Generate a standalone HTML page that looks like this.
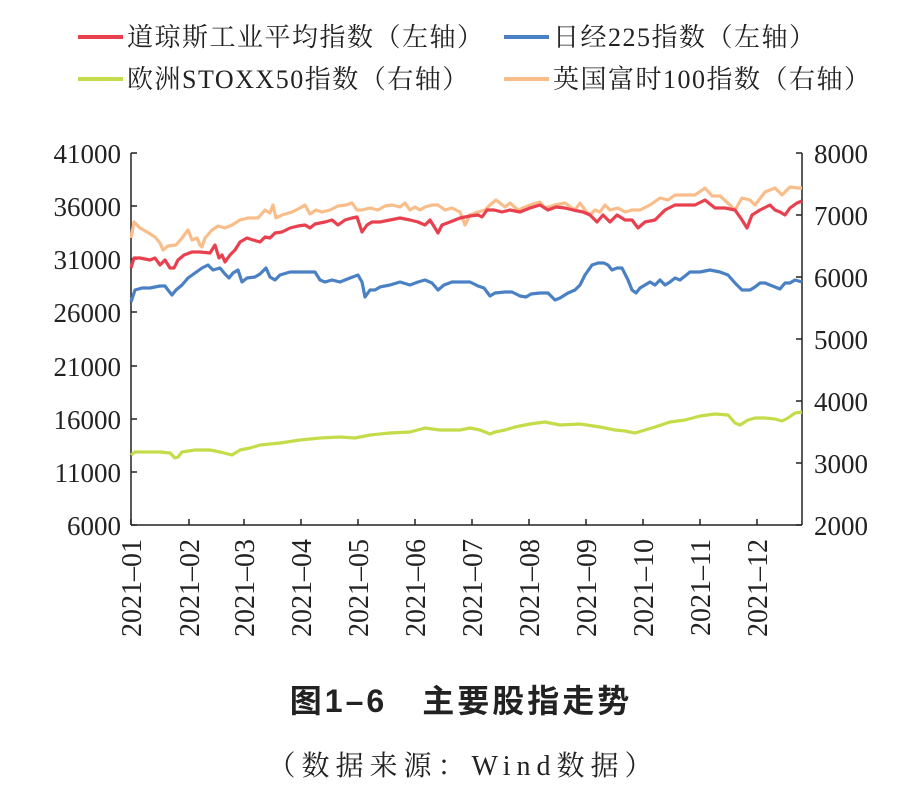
<!DOCTYPE html>
<html><head><meta charset="utf-8"><style>
body{margin:0;background:#fff}
svg text{font-family:"Liberation Serif","Noto Serif CJK SC",serif;fill:#222}
</style></head><body>
<svg width="922" height="801" viewBox="0 0 922 801" xmlns="http://www.w3.org/2000/svg">
<g font-size="26" letter-spacing="1.5">
<line x1="78" y1="37" x2="123" y2="37" stroke="#e8404f" stroke-width="4"/>
<text x="127" y="46">道琼斯工业平均指数（左轴）</text>
<line x1="504" y1="37" x2="549" y2="37" stroke="#4a80c4" stroke-width="4"/>
<text x="553" y="46">日经225指数（左轴）</text>
<line x1="78" y1="79" x2="123" y2="79" stroke="#c5dc4a" stroke-width="4"/>
<text x="127" y="88">欧洲STOXX50指数（右轴）</text>
<line x1="504" y1="79" x2="549" y2="79" stroke="#f9bd8a" stroke-width="4"/>
<text x="553" y="88">英国富时100指数（右轴）</text>
</g>
<g stroke="#222" stroke-width="1.5" fill="none">
<line x1="131" y1="153" x2="131" y2="525"/>
<line x1="802" y1="153" x2="802" y2="525"/>
<line x1="131" y1="525" x2="802" y2="525"/>
<path d="M131 153h6M131 206h6M131 259h6M131 312h6M131 366h6M131 419h6M131 472h6M131 525h6"/>
<path d="M802 153h-6M802 215h-6M802 277h-6M802 339h-6M802 401h-6M802 463h-6M802 525h-6"/>
<path d="M131 525v-6M189 525v-6M244 525v-6M301 525v-6M358 525v-6M415 525v-6M472 525v-6M529 525v-6M586 525v-6M643 525v-6M700 525v-6M757 525v-6"/>
</g>
<g font-size="27" text-anchor="end">
<text x="121" y="163">41000</text><text x="121" y="216">36000</text><text x="121" y="269">31000</text><text x="121" y="322">26000</text><text x="121" y="376">21000</text><text x="121" y="429">16000</text><text x="121" y="482">11000</text><text x="121" y="535">6000</text>
</g>
<g font-size="27">
<text x="814" y="163">8000</text><text x="814" y="225">7000</text><text x="814" y="287">6000</text><text x="814" y="349">5000</text><text x="814" y="411">4000</text><text x="814" y="473">3000</text><text x="814" y="535">2000</text>
</g>
<g font-size="28" text-anchor="end">
<text transform="translate(141,539) rotate(-90)">2021–01</text>
<text transform="translate(199,539) rotate(-90)">2021–02</text>
<text transform="translate(254,539) rotate(-90)">2021–03</text>
<text transform="translate(311,539) rotate(-90)">2021–04</text>
<text transform="translate(368,539) rotate(-90)">2021–05</text>
<text transform="translate(425,539) rotate(-90)">2021–06</text>
<text transform="translate(482,539) rotate(-90)">2021–07</text>
<text transform="translate(539,539) rotate(-90)">2021–08</text>
<text transform="translate(596,539) rotate(-90)">2021–09</text>
<text transform="translate(653,539) rotate(-90)">2021–10</text>
<text transform="translate(710,539) rotate(-90)">2021–11</text>
<text transform="translate(767,539) rotate(-90)">2021–12</text>
</g>
<g fill="none" stroke-width="3.2" stroke-linejoin="round">
<polyline stroke="#f9bd8a" points="131,238 134,222 140,228 147,232 155,237 160,243 163,250 168,246 176,245 182,238 188,230 192,240 197,238 200,245 202,247 205,238 212,230 218,226 225,228 232,225 240,220 248,218 258,218 265,210 270,213 273,205 276,218 282,215 292,212 300,208 305,205 310,214 316,210 322,212 330,210 338,206 346,205 352,203 357,210 362,210 370,208 378,210 385,206 392,205 400,207 405,203 410,210 415,207 420,210 425,207 432,205 438,205 445,210 452,208 460,212 465,225 470,215 478,212 485,210 490,205 496,200 505,207 510,203 518,210 530,205 540,202 545,208 555,205 565,203 575,210 580,203 585,210 590,215 595,210 600,212 605,205 610,210 618,208 625,212 632,210 640,210 650,205 660,198 668,200 675,195 685,195 695,195 705,188 712,196 720,196 730,205 735,210 742,198 750,200 755,205 765,192 775,188 782,195 790,187 798,188 802,188"/>
<polyline stroke="#e8404f" points="131,268 134,258 140,258 150,260 155,258 160,265 165,260 170,268 174,268 178,260 184,255 192,252 200,252 210,253 215,245 219,258 222,255 225,262 230,255 235,250 240,242 247,238 253,240 260,242 265,237 270,238 275,233 282,232 290,228 298,226 305,225 310,228 315,224 325,222 332,220 338,225 345,220 352,218 357,217 362,232 367,225 372,222 380,222 390,220 400,218 410,220 418,222 425,225 430,220 435,228 438,233 442,225 450,222 460,218 470,216 478,215 482,217 487,210 494,210 502,212 510,210 520,212 530,208 540,205 548,210 556,207 565,208 573,210 583,212 590,215 597,222 603,215 610,222 617,215 625,220 632,220 638,228 645,222 655,220 665,210 675,205 685,205 695,205 705,200 715,208 725,208 735,210 742,220 747,228 752,215 760,210 770,205 775,210 780,212 785,215 790,208 797,203 802,201"/>
<polyline stroke="#4a80c4" points="131,302 135,290 142,288 150,288 160,286 165,286 168,290 172,295 176,290 182,285 188,278 195,273 202,268 208,265 213,270 220,268 225,274 229,278 233,273 238,270 242,282 247,278 255,277 260,274 266,268 270,277 275,280 280,275 290,272 300,272 310,272 315,272 320,280 325,282 332,280 340,282 350,278 358,275 362,282 365,297 370,290 375,290 380,287 390,285 400,282 410,285 418,282 425,280 432,283 438,290 444,285 452,282 462,282 470,282 478,286 484,288 490,296 495,293 505,292 512,292 520,296 526,297 531,294 540,293 548,293 555,300 560,298 568,293 575,290 580,285 585,275 592,265 598,263 604,263 608,265 612,270 617,268 622,268 628,280 632,290 636,293 640,288 645,285 650,282 655,285 660,280 665,285 670,282 675,278 680,280 690,272 700,272 710,270 720,272 728,275 735,283 742,290 750,290 755,287 760,283 765,283 770,285 775,287 780,289 785,283 790,283 795,280 802,282"/>
<polyline stroke="#c5dc4a" points="131,455 135,452 145,452 160,452 170,453 175,458 178,457 182,452 195,450 210,450 220,452 232,455 240,450 250,448 260,445 280,443 300,440 320,438 340,437 355,438 370,435 390,433 410,432 425,428 440,430 460,430 470,428 480,430 490,434 495,432 505,430 515,427 530,424 545,422 560,425 580,424 600,427 615,430 625,431 635,433 645,430 655,427 670,422 685,420 700,416 715,414 728,415 735,423 740,425 748,420 755,418 765,418 775,419 782,421 788,418 795,413 802,412"/>
</g>
<text x="461" y="712" font-size="32" font-weight="bold" letter-spacing="3" text-anchor="middle" style='font-family:"Liberation Sans","Noto Sans CJK SC",sans-serif'>图1–6　主要股指走势</text>
<text x="463" y="775" font-size="28" letter-spacing="6" text-anchor="middle">（数据来源：Wind数据）</text>
</svg>
</body></html>
